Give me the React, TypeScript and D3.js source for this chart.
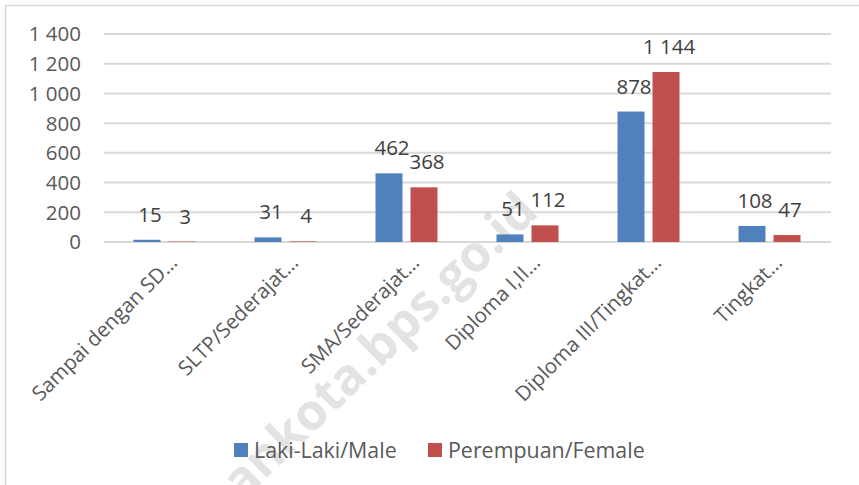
import { useRef, useEffect } from "react";
import * as d3 from "d3";

const categories = [
  "Sampai dengan SD…",
  "SLTP/Sederajat…",
  "SMA/Sederajat…",
  "Diploma I,II…",
  "Diploma III/Tingkat…",
  "Tingkat…",
];
const series = ["Laki-Laki/Male", "Perempuan/Female"];
const male = [15, 31, 462, 51, 878, 108];
const female = [3, 4, 368, 112, 1144, 47];
const yTicks = [0, 200, 400, 600, 800, 1000, 1200, 1400];
const colors = ["#4f81bd", "#c0504d"];

const W = 859;
const H = 485;
const FONT = "'Open Sans', sans-serif";

const fmt = (v: number) => {
  const s = String(v);
  return s.replace(/\B(?=(\d{3})+(?!\d))/g, " ");
};

const App = () => {
  const ref = useRef<SVGSVGElement>(null);

  useEffect(() => {
    if (!ref.current) return;
    const svg = d3.select(ref.current);
    svg.selectAll("*").remove();

    // frame
    svg
      .append("path")
      .attr("d", `M5.5,${H} V5.5 H${W}`)
      .attr("fill", "none")
      .attr("stroke", "#d9d9d9")
      .attr("stroke-width", 1.5);

    const x0 = d3.scaleBand().domain(categories).range([104, 830]);
    const group = 62;
    const x1 = d3
      .scaleBand()
      .domain(series)
      .range([(x0.bandwidth() - group) / 2, (x0.bandwidth() + group) / 2])
      .paddingInner(8 / 35);
    const y = d3.scaleLinear().domain([0, 1400]).range([242, 34]);

    // watermark
    svg
      .append("text")
      .attr("transform", "translate(540,214) rotate(-44)")
      .attr("text-anchor", "end")
      .style("font-family", FONT)
      .style("font-weight", "bold")
      .style("font-size", "50px")
      .style("fill", "#e3e3e3")
      .text("ankota.bps.go.id");

    // gridlines
    svg
      .append("g")
      .selectAll("line")
      .data(yTicks)
      .enter()
      .append("line")
      .attr("x1", 104)
      .attr("x2", 831)
      .attr("y1", (d) => y(d))
      .attr("y2", (d) => y(d))
      .attr("stroke", "#d9d9d9")
      .attr("stroke-width", 2);

    // y tick labels
    svg
      .append("g")
      .selectAll("text")
      .data(yTicks)
      .enter()
      .append("text")
      .attr("x", 81)
      .attr("y", (d) => y(d))
      .attr("dy", "0.36em")
      .attr("text-anchor", "end")
      .style("font-family", FONT)
      .style("font-size", "20.5px")
      .style("fill", "#595959")
      .text((d) => fmt(d));

    const rows = categories.map((c, i) => ({ cat: c, vals: [male[i], female[i]] }));

    const groups = svg
      .append("g")
      .selectAll("g")
      .data(rows)
      .enter()
      .append("g")
      .attr("transform", (d) => `translate(${x0(d.cat)},0)`);

    groups
      .selectAll("rect")
      .data((d) => d.vals.map((v, j) => ({ s: series[j], v, j })))
      .enter()
      .append("rect")
      .attr("x", (d) => x1(d.s)!)
      .attr("width", x1.bandwidth())
      .attr("y", (d) => y(d.v))
      .attr("height", (d) => y(0) - y(d.v))
      .attr("fill", (d) => colors[d.j]);

    groups
      .selectAll("text")
      .data((d) => d.vals.map((v, j) => ({ s: series[j], v, j })))
      .enter()
      .append("text")
      .attr("x", (d) => x1(d.s)! + x1.bandwidth() / 2 + 3)
      .attr("y", (d) => y(d.v) - 18)
      .attr("text-anchor", "middle")
      .style("font-family", FONT)
      .style("font-size", "20.5px")
      .style("fill", "#404040")
      .text((d) => fmt(d.v));

    // category labels
    svg
      .append("g")
      .selectAll("text")
      .data(categories)
      .enter()
      .append("text")
      .attr(
        "transform",
        (d) => `translate(${x0(d)! + x0.bandwidth() / 2 + 14},264) rotate(-45)`
      )
      .attr("text-anchor", "end")
      .style("font-family", FONT)
      .style("font-size", "20.5px")
      .style("fill", "#595959")
      .text((d) => d);

    // legend
    const legendX = [234, 428];
    const lg = svg
      .append("g")
      .selectAll("g")
      .data(series)
      .enter()
      .append("g")
      .attr("transform", (d, i) => `translate(${legendX[i]},443)`);
    lg.append("rect")
      .attr("width", 14)
      .attr("height", 14)
      .attr("fill", (d, i) => colors[i]);
    lg.append("text")
      .attr("x", 20)
      .attr("y", 14.5)
      .style("font-family", FONT)
      .style("font-size", "21.4px")
      .style("fill", "#595959")
      .text((d) => d);
  }, []);

  return (
    <div style={{ position: "absolute", left: 0, top: 0 }}>
      <svg ref={ref} width={W} height={H} style={{ display: "block", background: "#fff" }} />
    </div>
  );
};

export default App;
